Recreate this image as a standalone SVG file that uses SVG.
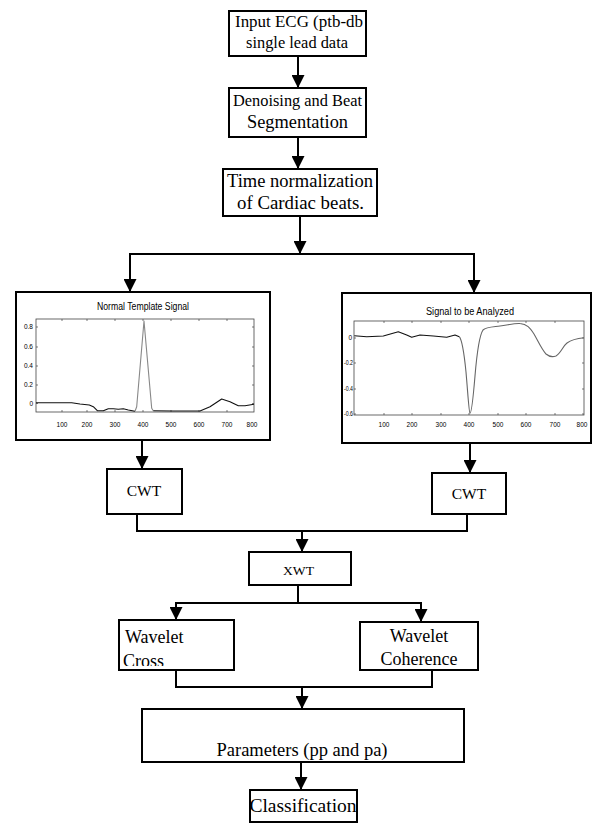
<svg xmlns="http://www.w3.org/2000/svg" width="592" height="823" viewBox="0 0 592 823">
<style>
.box{fill:#fff;stroke:#000;stroke-width:2}
.t{font-family:"Liberation Serif","Times New Roman",serif;fill:#000}
.c{font-family:"Liberation Sans",Arial,sans-serif;fill:#000}
.con{fill:none;stroke:#000;stroke-width:2}
.frame{fill:#fff;stroke:#444;stroke-width:0.8}
.tick{stroke:#444;stroke-width:0.7}
.sig{fill:none;stroke:#111;stroke-width:1.1;stroke-linejoin:round}
</style>
<defs>
<marker id="ah" markerUnits="userSpaceOnUse" markerWidth="14" markerHeight="13" refX="13" refY="6.5" orient="auto">
<path d="M0,0 L13,6.5 L0,13 Z" fill="#000"/>
</marker>
<clipPath id="clipCross"><rect x="119" y="620" width="115" height="46"/></clipPath>
</defs>

<g id="connectors">
<line class="con" x1="298" y1="56" x2="298" y2="88" marker-end="url(#ah)"/>
<line class="con" x1="298" y1="137" x2="298" y2="169" marker-end="url(#ah)"/>
<line class="con" x1="300" y1="216" x2="300" y2="254" marker-end="url(#ah)"/>
<polyline class="con" points="130,292 130,254 474,254 474,293"/>
<line class="con" x1="130" y1="254" x2="130" y2="292" marker-end="url(#ah)"/>
<line class="con" x1="474" y1="254" x2="474" y2="293" marker-end="url(#ah)"/>
<line class="con" x1="142" y1="440" x2="142" y2="469" marker-end="url(#ah)"/>
<line class="con" x1="470" y1="443" x2="470" y2="473" marker-end="url(#ah)"/>
<polyline class="con" points="137,514 137,531 467,531 467,514"/>
<line class="con" x1="302" y1="531" x2="302" y2="552" marker-end="url(#ah)"/>
<polyline class="con" points="298,585 298,603"/>
<polyline class="con" points="176,620 176,603 421,603 421,622"/>
<line class="con" x1="176" y1="603" x2="176" y2="620" marker-end="url(#ah)"/>
<line class="con" x1="421" y1="603" x2="421" y2="622" marker-end="url(#ah)"/>
<polyline class="con" points="176,670 176,687 432,687 432,670"/>
<line class="con" x1="302" y1="687" x2="302" y2="709" marker-end="url(#ah)"/>
<line class="con" x1="301" y1="762" x2="301" y2="790" marker-end="url(#ah)"/>
</g>

<g id="input">
<rect class="box" x="229" y="11" width="137" height="45"/>
<text class="t" x="299" y="27" font-size="16.5" text-anchor="middle" textLength="128" lengthAdjust="spacingAndGlyphs">Input ECG (ptb-db</text>
<text class="t" x="297" y="48" font-size="16.5" text-anchor="middle" textLength="102" lengthAdjust="spacingAndGlyphs">single lead data</text>
</g>

<g id="denoising">
<rect class="box" x="229" y="88" width="137" height="49"/>
<text class="t" x="297.5" y="106" font-size="16.5" text-anchor="middle" textLength="129" lengthAdjust="spacingAndGlyphs">Denoising and Beat</text>
<text class="t" x="297.5" y="128" font-size="18" text-anchor="middle" textLength="101" lengthAdjust="spacingAndGlyphs">Segmentation</text>
</g>

<g id="timenorm">
<rect class="box" x="223" y="169" width="154" height="47"/>
<text class="t" x="300" y="187" font-size="18" text-anchor="middle" textLength="146" lengthAdjust="spacingAndGlyphs">Time normalization</text>
<text class="t" x="300.5" y="209" font-size="18" text-anchor="middle" textLength="127" lengthAdjust="spacingAndGlyphs">of Cardiac beats.</text>
</g>

<g id="template">
<rect class="box" x="16" y="292" width="254" height="148"/>
<text class="c" x="143" y="310" font-size="10" text-anchor="middle" textLength="92" lengthAdjust="spacingAndGlyphs">Normal Template Signal</text>
<rect class="frame" x="36" y="319" width="218" height="93"/>
<g class="tick">
<path d="M62,412v-2M87,412v-2M115,412v-2M143,412v-2M171,412v-2M199,412v-2M227,412v-2M62,319v2M87,319v2M115,319v2M143,319v2M171,319v2M199,319v2M227,319v2"/>
<path d="M36,327h2M36,347h2M36,366h2M36,385h2M36,403.5h2M254,327h-2M254,347h-2M254,366h-2M254,385h-2M254,403.5h-2"/>
</g>
<g class="c" font-size="6.5" text-anchor="end">
<text x="33" y="329">0.8</text>
<text x="33" y="349">0.6</text>
<text x="33" y="368">0.4</text>
<text x="33" y="387">0.2</text>
<text x="33" y="405.5">0</text>
</g>
<g class="c" font-size="6.5" text-anchor="middle">
<text x="62" y="427">100</text>
<text x="87" y="427">200</text>
<text x="115" y="427">300</text>
<text x="143" y="427">400</text>
<text x="171" y="427">500</text>
<text x="199" y="427">600</text>
<text x="227" y="427">700</text>
<text x="252" y="427">800</text>
</g>
<polyline class="sig" points="36,402.7 71.7,402.7 80,404 89.3,405 93.3,406.7 97.3,410.7 103.3,410.7 108.3,408.7 113.3,408.7 118.3,409.3 123.3,408.7 128.3,410 135,411.3"/>
<polyline class="sig" style="stroke:#888" points="135,411.3 136.7,406.7 144,321 151.7,408.3 153.3,410.7"/>
<polyline class="sig" points="153.3,410.7 173.3,411 200,411 210,406.7 221.7,399 230,401.7 238.3,405.7 245,405.7 254,404.3"/>
</g>

<g id="analyzed">
<rect class="box" x="342" y="293" width="249" height="150"/>
<text class="c" x="470" y="315" font-size="10" text-anchor="middle" textLength="88" lengthAdjust="spacingAndGlyphs">Signal to be Analyzed</text>
<rect class="frame" x="354" y="321" width="230" height="94"/>
<g class="tick">
<path d="M384,415v-2M412,415v-2M441,415v-2M469,415v-2M498,415v-2M526,415v-2M555,415v-2M384,321v2M412,321v2M441,321v2M469,321v2M498,321v2M526,321v2M555,321v2"/>
<path d="M354,338h2M354,363h2M354,389h2M354,414h2M584,338h-2M584,363h-2M584,389h-2M584,414h-2"/>
</g>
<g class="c" font-size="6.5" text-anchor="end">
<text x="352" y="340">0</text>
<text x="353" y="365" textLength="9" lengthAdjust="spacingAndGlyphs">-0.2</text>
<text x="353" y="391" textLength="9" lengthAdjust="spacingAndGlyphs">-0.4</text>
<text x="353" y="416" textLength="9" lengthAdjust="spacingAndGlyphs">-0.6</text>
</g>
<g class="c" font-size="6.5" text-anchor="middle">
<text x="384" y="427">100</text>
<text x="412" y="427">200</text>
<text x="441" y="427">300</text>
<text x="469" y="427">400</text>
<text x="498" y="427">500</text>
<text x="526" y="427">600</text>
<text x="555" y="427">700</text>
<text x="582" y="427">800</text>
</g>
<polyline class="sig" points="354.3,335.7 366.7,336.7 383.3,336 398.3,331.7 406.7,335 411.7,337.3 420,335 433.3,336 446.7,337.3 455,335 459.3,336.7"/>
<path class="sig" style="stroke:#666" d="M459.3,336.7 C462,340 464,352 466,372 C468,395 469,413 470,413.3 C471.5,413 473,400 475,376 C477,352 479,336 483,330 C486,327 492,327 500,326 C508,325 515,323 520,323.5 C527,324 530,328 534,334 C538,341 542,350 546,354 C550,357.5 553,357 556,356 C561,353 563,346 567,343 C571,340 576,338.5 584,337.7"/>
</g>

<g id="cwt1">
<rect class="box" x="107" y="469" width="75" height="45"/>
<text class="t" x="144" y="496" font-size="15.5" text-anchor="middle">CWT</text>
</g>

<g id="cwt2">
<rect class="box" x="432" y="473" width="74" height="41"/>
<text class="t" x="469" y="499" font-size="15.5" text-anchor="middle">CWT</text>
</g>

<g id="xwt">
<rect class="box" x="249" y="552" width="102" height="33"/>
<text class="t" x="298.5" y="575" font-size="12.5" text-anchor="middle" textLength="31" lengthAdjust="spacingAndGlyphs">XWT</text>
</g>

<g id="wcross">
<rect class="box" x="119" y="620" width="115" height="50"/>
<g clip-path="url(#clipCross)">
<text class="t" x="125" y="643" font-size="18">Wavelet</text>
<text class="t" x="123" y="667" font-size="18">Cross</text>
</g>
</g>

<g id="wcoherence">
<rect class="box" x="360" y="622" width="118" height="48"/>
<text class="t" x="419" y="642" font-size="18" text-anchor="middle">Wavelet</text>
<text class="t" x="419" y="665" font-size="18" text-anchor="middle">Coherence</text>
</g>

<g id="parameters">
<rect class="box" x="142" y="709" width="322" height="53"/>
<text class="t" x="302" y="756" font-size="18.5" text-anchor="middle">Parameters (pp and pa)</text>
</g>

<g id="classification">
<rect class="box" x="250" y="790" width="107" height="32"/>
<text class="t" x="303" y="812" font-size="19.5" text-anchor="middle">Classification</text>
</g>
</svg>
